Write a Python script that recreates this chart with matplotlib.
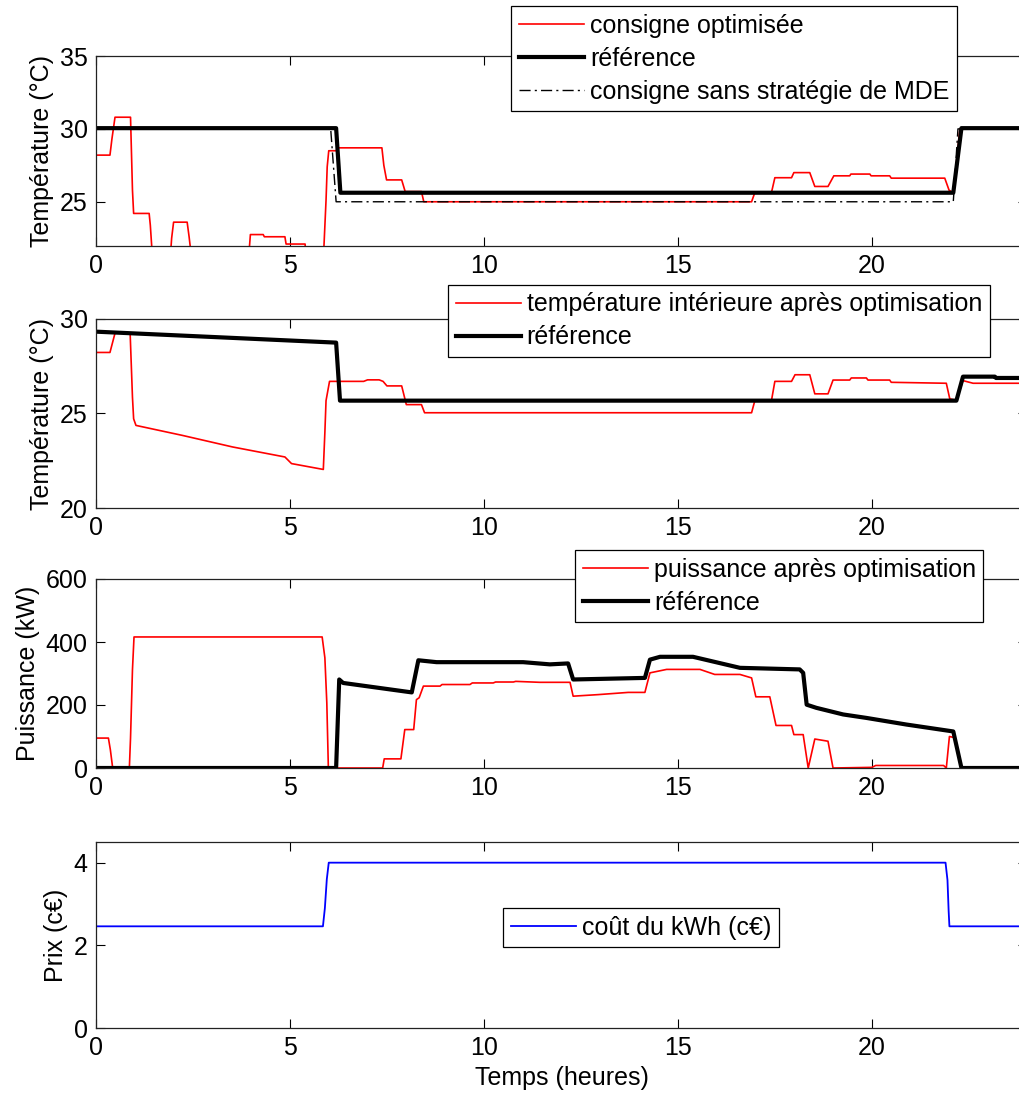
import matplotlib
matplotlib.use("Agg")
import matplotlib.pyplot as plt

plt.rcParams['font.family'] = ['Liberation Sans', 'DejaVu Sans']
plt.rcParams['font.size'] = 18

# ---------------- Panel 1 : consignes ----------------
t_cons_opt = [0, 0.36, 0.41, 0.49, 0.89, 0.94, 0.97, 1.37, 1.40, 1.46, 1.91, 1.95, 2.00, 2.35, 2.40,
              2.47, 3.93, 3.98, 4.31, 4.34, 4.87, 4.90, 5.39, 5.42, 5.86, 5.93, 5.96, 6.00, 6.20,
              6.22, 7.37, 7.42, 7.49, 7.88, 7.97, 8.39, 8.45, 16.90, 16.98, 17.41, 17.50, 17.93,
              17.99, 18.40, 18.53, 18.87, 19.02, 19.43, 19.46, 19.95, 19.98, 20.46, 20.50, 21.88,
              21.99, 22.10, 22.27, 24.0]
T_cons_opt = [28.2, 28.2, 29.3, 30.8, 30.8, 25.8, 24.2, 24.2, 23.4, 21.0, 21.0, 22.5, 23.6, 23.6, 22.6,
              21.0, 21.0, 22.75, 22.75, 22.6, 22.6, 22.1, 22.1, 21.0, 21.0, 25.1, 27.4, 28.5, 28.5,
              28.7, 28.7, 27.5, 26.5, 26.5, 25.7, 25.7, 25.0, 25.0, 25.6, 25.6, 26.65, 26.65,
              27.0, 27.0, 26.05, 26.05, 26.78, 26.78, 26.9, 26.9, 26.78, 26.78, 26.62, 26.62,
              25.8, 25.6, 30.0, 30.0]

t_cons_ref = [0, 6.19, 6.30, 22.10, 22.31, 24.0]
T_cons_ref = [30.05, 30.05, 25.62, 25.62, 30.05, 30.05]

t_cons_sans = [0, 6.05, 6.19, 22.10, 22.22, 24.0]
T_cons_sans = [30.0, 30.0, 25.0, 25.0, 30.0, 30.0]

# ---------------- Panel 2 : température intérieure ----------------
t_int_opt = [0, 0.36, 0.49, 0.88, 0.94, 0.97, 1.03, 2.23, 3.52, 4.87, 5.04, 5.86, 5.90, 5.93, 6.02,
             6.90, 7.00, 7.30, 7.40, 7.50, 7.88, 8.00, 8.39, 8.47, 16.90, 16.98, 17.41, 17.50,
             17.93, 18.02, 18.40, 18.53, 18.87, 19.00, 19.43, 19.47, 19.86, 19.90, 20.46, 20.50,
             21.92, 22.01, 22.18, 22.35, 22.61, 24.0]
T_int_opt = [28.23, 28.23, 29.25, 29.25, 25.86, 24.72, 24.37, 23.84, 23.23, 22.70, 22.35, 22.04, 24.0,
             25.68, 26.70, 26.70, 26.78, 26.78, 26.70, 26.46, 26.46, 25.47, 25.47, 25.04, 25.04,
             25.65, 25.65, 26.70, 26.70, 27.05, 27.05, 26.04, 26.04, 26.77, 26.77, 26.88, 26.88,
             26.77, 26.77, 26.65, 26.60, 25.77, 25.70, 26.74, 26.60, 26.60]

t_int_ref = [0, 6.19, 6.29, 22.18, 22.35, 23.17, 23.20, 24.0]
T_int_ref = [29.33, 28.75, 25.68, 25.68, 26.95, 26.95, 26.88, 26.88]

# ---------------- Panel 3 : puissance ----------------
t_p_opt = [0, 0.32, 0.37, 0.43, 0.86, 0.89, 0.94, 0.98, 5.83, 5.90, 5.95, 5.99, 7.39, 7.43, 7.86,
           7.96, 8.19, 8.26, 8.33, 8.44, 8.87, 8.92, 9.64, 9.70, 10.24, 10.30, 10.76, 10.82, 11.44,
           12.22, 12.30, 12.95, 13.72, 14.15, 14.28, 14.71, 15.57, 15.95, 16.60, 16.90, 17.01,
           17.37, 17.53, 17.93, 17.99, 18.23, 18.36, 18.53, 18.87, 19.00, 20.00, 20.10, 21.85,
           21.92, 22.00, 22.15, 22.31, 24.0]
P_opt = [95, 95, 58, 0, 0, 95, 312, 416, 416, 350, 207, 0, 0, 29, 29,
         122, 122, 217, 223, 260, 260, 265, 265, 270, 270, 273, 273, 275, 272,
         272, 228, 233, 240, 240, 302, 313, 313, 297, 297, 286, 226,
         226, 135, 135, 106, 106, 0, 92, 85, 0, 2, 8, 8,
         0, 100, 96, 0, 0]

t_p_ref = [0, 6.19, 6.27, 6.37, 8.14, 8.31, 8.78, 11.01, 11.70, 12.17, 12.30, 14.15, 14.28, 14.54,
           15.39, 16.60, 18.14, 18.23, 18.32, 18.57, 19.26, 19.86, 20.89, 22.10, 22.31, 24.0]
P_ref = [0, 0, 281, 270, 240, 342, 336, 336, 329, 332, 281, 286, 344, 353,
         353, 318, 313, 302, 201, 191, 170, 159, 138, 116, 0, 0]

# ---------------- Panel 4 : prix ----------------
t_prix = [0, 5.85, 5.90, 5.95, 6.00, 21.90, 21.95, 21.98, 22.00, 24.0]
prix = [2.46, 2.46, 2.9, 3.6, 4.0, 4.0, 3.58, 2.83, 2.46, 2.46]

# ---------------- Figure ----------------
W, H = 1019, 1097
fig = plt.figure(figsize=(W / 100, H / 100), dpi=100)


def make_ax(top_px, bot_px):
    left = 96 / W
    width = (1027 - 96) / W
    return fig.add_axes([left, 1 - bot_px / H, width, (bot_px - top_px) / H])


ax1 = make_ax(56, 245.5)
ax2 = make_ax(319, 508)
ax3 = make_ax(579, 768)
ax4 = make_ax(842, 1028)

for ax in (ax1, ax2, ax3, ax4):
    ax.set_xlim(0, 24)
    ax.set_xticks([0, 5, 10, 15, 20])
    ax.tick_params(direction='in', top=True, right=True, length=6.5, width=0.8,
                   labelsize=18, pad=6)
    for s in ax.spines.values():
        s.set_linewidth(0.9)
        s.set_color('#222222')

leg_kw = dict(fontsize=18, handlelength=2.6, handletextpad=0.25, borderpad=0.3,
              labelspacing=0.36, borderaxespad=0, fancybox=False, framealpha=1,
              edgecolor='black', bbox_transform=fig.transFigure, loc='upper left')

# Panel 1
ax1.plot(t_cons_opt, T_cons_opt, color='red', lw=1.2, label='consigne optimisée')
ax1.plot(t_cons_ref, T_cons_ref, color='black', lw=3, label='référence')
ax1.plot(t_cons_sans, T_cons_sans, color='black', lw=1, dashes=[8, 3, 1.5, 3],
         label='consigne sans stratégie de MDE')
ax1.set_ylim(22, 35)
ax1.set_yticks([25, 30, 35])
ax1.set_ylabel('Température (°C)')
l1 = ax1.legend(bbox_to_anchor=(511 / W, 1 - 6 / H), **leg_kw)
l1.get_frame().set_linewidth(0.9)

# Panel 2
ax2.plot(t_int_opt, T_int_opt, color='red', lw=1.2,
         label='température intérieure après optimisation')
ax2.plot(t_int_ref, T_int_ref, color='black', lw=3, label='référence')
ax2.set_ylim(20, 30)
ax2.set_yticks([20, 25, 30])
ax2.set_ylabel('Température (°C)')
l2 = ax2.legend(bbox_to_anchor=(448 / W, 1 - 285 / H), **leg_kw)
l2.get_frame().set_linewidth(0.9)

# Panel 3
ax3.plot(t_p_opt, P_opt, color='red', lw=1.2, label='puissance après optimisation')
ax3.plot(t_p_ref, P_ref, color='black', lw=3, label='référence')
ax3.set_ylim(0, 600)
ax3.set_yticks([0, 200, 400, 600])
ax3.set_ylabel('Puissance (kW)')
l3 = ax3.legend(bbox_to_anchor=(575 / W, 1 - 550 / H), **leg_kw)
l3.get_frame().set_linewidth(0.9)

# Panel 4
ax4.plot(t_prix, prix, color='blue', lw=1.3, label='coût du kWh (c€)')
ax4.set_ylim(0, 4.5)
ax4.set_yticks([0, 2, 4])
ax4.set_ylabel('Prix (c€)')
ax4.set_xlabel('Temps (heures)')
l4 = ax4.legend(bbox_to_anchor=(503 / W, 1 - 908 / H), **leg_kw)
l4.get_frame().set_linewidth(0.9)

fig.savefig('out.png', dpi=100)
